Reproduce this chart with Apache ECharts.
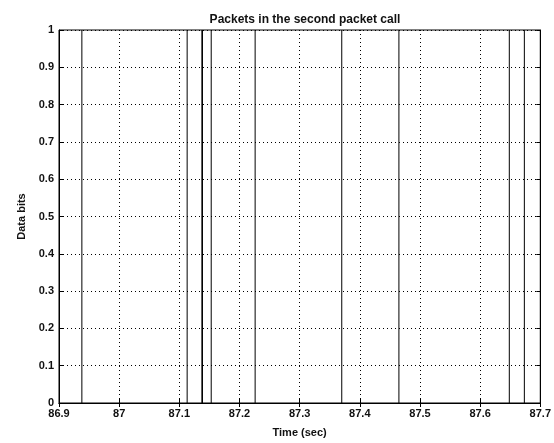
<!DOCTYPE html>
<html>
<head>
<meta charset="utf-8">
<script src="https://cdn.jsdelivr.net/npm/echarts@6/dist/echarts.min.js"></script>
<style>
  html, body { margin: 0; padding: 0; background: #fff; }
  #chart { width: 554px; height: 443px; }
</style>
</head>
<body>
<div id="chart"></div>
<script>
// packet arrival times (sec), each drawn as a full-height vertical line
let packetTimes = [86.938, 87.113, 87.1375, 87.1385, 87.153, 87.226, 87.370, 87.465, 87.6485, 87.6735];
let bitLevels = [0, 1];
let xTicks = [86.9, 87.7, 0.1];
let yTicks = [0, 1, 0.1];

let chart = echarts.init(document.getElementById('chart'));

let labelFont = { color: '#111', fontFamily: 'Liberation Sans, Arial', fontSize: 11, fontWeight: 'bold' };
let gridDots = { show: true, lineStyle: { color: '#000', width: 1, type: [1, 3] } };

let series = packetTimes.map(function (t) {
    return {
        type: 'line',
        data: bitLevels.map(function (b) { return [t, b]; }),
        showSymbol: false,
        symbol: 'none',
        silent: true,
        lineStyle: { color: '#000', width: 1 }
    };
});

let option = {
    animation: false,
    backgroundColor: '#fff',
    title: {
        text: 'Packets in the second packet call',
        left: 300,
        textAlign: 'center',
        top: 9,
        textStyle: { color: '#111', fontFamily: 'Liberation Sans, Arial', fontSize: 12, fontWeight: 'bold' }
    },
    grid: {
        left: 59, right: 13, top: 30, bottom: 33,
        show: true, borderColor: '#000', borderWidth: 1, backgroundColor: 'transparent'
    },
    xAxis: [{
        type: 'value',
        min: xTicks[0], max: xTicks[1], interval: xTicks[2],
        name: 'Time (sec)',
        nameLocation: 'middle',
        nameGap: 24,
        nameTextStyle: labelFont,
        axisLine: { show: true, lineStyle: { color: '#000' } },
        axisTick: { show: true, inside: true, length: 4, lineStyle: { color: '#000' } },
        axisLabel: Object.assign({ margin: 5 }, labelFont),
        splitLine: gridDots
    }, {
        type: 'value', position: 'top',
        min: xTicks[0], max: xTicks[1], interval: xTicks[2],
        axisLine: { show: true, lineStyle: { color: '#000' } },
        axisTick: { show: true, inside: true, length: 4, lineStyle: { color: '#000' } },
        axisLabel: { show: false },
        splitLine: { show: false }
    }],
    yAxis: [{
        type: 'value',
        min: yTicks[0], max: yTicks[1], interval: yTicks[2],
        name: 'Data bits',
        nameLocation: 'middle',
        nameGap: 31,
        nameRotate: 90,
        nameTextStyle: labelFont,
        axisLine: { show: true, lineStyle: { color: '#000' } },
        axisTick: { show: true, inside: true, length: 4, lineStyle: { color: '#000' } },
        axisLabel: Object.assign({ margin: 5 }, labelFont),
        splitLine: gridDots
    }, {
        type: 'value', position: 'right',
        min: yTicks[0], max: yTicks[1], interval: yTicks[2],
        axisLine: { show: true, lineStyle: { color: '#000' } },
        axisTick: { show: true, inside: true, length: 4, lineStyle: { color: '#000' } },
        axisLabel: { show: false },
        splitLine: { show: false }
    }],
    series: series
};

chart.setOption(option);
</script>
</body>
</html>
